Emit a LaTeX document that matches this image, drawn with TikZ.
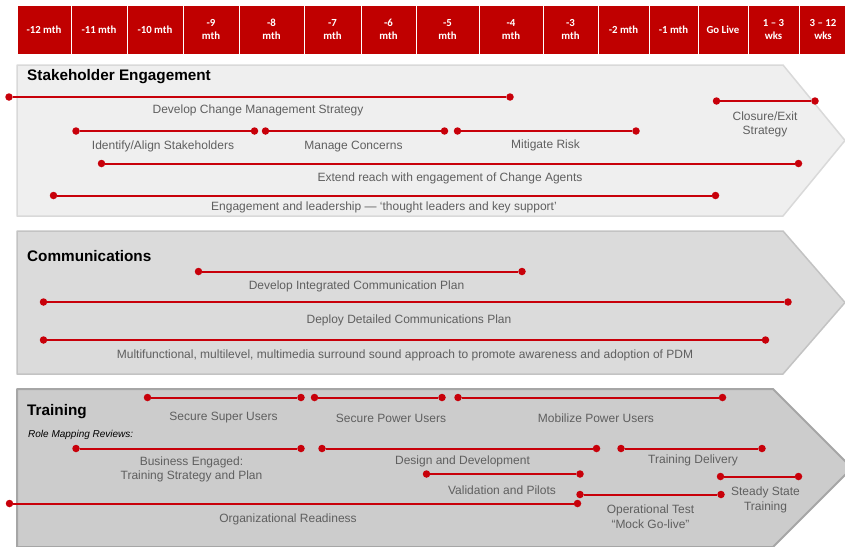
\documentclass[tikz,border=0pt]{standalone}
\usepackage{fontspec}
\setmainfont{Liberation Sans}
\newfontfamily\hdrfont{Carlito}
\usetikzlibrary{positioning}

\definecolor{hdrred}{HTML}{C00000}
\definecolor{barred}{HTML}{C8000A}
\definecolor{lblgray}{HTML}{5F5F5F}
\definecolor{sefill}{HTML}{EFEFEF}
\definecolor{seline}{HTML}{D9D9D9}
\definecolor{cofill}{HTML}{DBDBDB}
\definecolor{coline}{HTML}{C3C3C3}
\definecolor{trfill}{HTML}{CCCCCC}
\definecolor{trline}{HTML}{A6A6A6}

\tikzset{
	hdr/.style={draw=white, line width=1pt, fill=hdrred, text=white, inner sep=0pt,
		font=\hdrfont\bfseries\fontsize{10.8}{12.5}\selectfont, align=center, minimum height=49pt},
	dot/.style={circle, fill=barred, inner sep=0pt, minimum size=7.5pt},
	bar/.style={draw=barred, line width=2pt},
	lbl/.style={text=lblgray, font=\fontsize{12}{14.5}\selectfont, align=center, inner sep=0pt, yshift=-1.5pt},
	ttl/.style={font=\fontsize{15.3}{18}\selectfont\bfseries, anchor=west, inner sep=0pt},
}

\begin{document}
\begin{tikzpicture}[x=1pt, y=-1pt, line join=round]
	
	\useasboundingbox (0,0) rectangle (845,546);
	\clip (0,0) rectangle (845,546);
	
	% month header
	\node[hdr, minimum width=54pt] (m12) at (44,29.5) {-12 mth};
	\node[hdr, minimum width=56pt] (m11) at (99,29.5) {-11 mth};
	\node[hdr, minimum width=56pt] (m10) at (155,29.5) {-10 mth};
	\node[hdr, minimum width=56pt] (m9) at (211,29.5) {-9\\mth};
	\node[hdr, minimum width=65pt] (m8) at (271.5,29.5) {-8\\mth};
	\node[hdr, minimum width=57pt] (m7) at (332.5,29.5) {-7\\mth};
	\node[hdr, minimum width=55pt] (m6) at (388.5,29.5) {-6\\mth};
	\node[hdr, minimum width=63pt] (m5) at (447.5,29.5) {-5\\mth};
	\node[hdr, minimum width=64pt] (m4) at (511,29.5) {-4\\mth};
	\node[hdr, minimum width=55pt] (m3) at (570.5,29.5) {-3\\mth};
	\node[hdr, minimum width=51pt] (m2) at (623.5,29.5) {-2 mth};
	\node[hdr, minimum width=49pt] (m1) at (673.5,29.5) {-1 mth};
	\node[hdr, minimum width=50pt] (golive) at (723,29.5) {Go Live};
	\node[hdr, minimum width=51pt] (w13) at (773.5,29.5) {1 – 3\\wks};
	\node[hdr, minimum width=48pt] (w312) at (823,29.5) {3 – 12\\wks};
	
	% Stakeholder Engagement band
	\draw[fill=sefill, draw=seline, line width=1.5pt]
	(17,65) -- (783,65) -- (845,140.5) -- (783,216) -- (17,216) -- cycle;
	\node[ttl] (se) at (27,77) {Stakeholder Engagement};
	
	\node[dot] (cms-l) at (9,97) {};
	\node[dot] (cms-r) at (510,97) {};
	\draw[bar] (cms-l) -- (cms-r);
	\node[lbl] (cms) at (258,109) {Develop Change Management Strategy};
	
	\node[dot] (exit-l) at (716.5,101) {};
	\node[dot] (exit-r) at (815,101) {};
	\draw[bar] (exit-l) -- (exit-r);
	\node[lbl] (exit) at (765,123) {Closure/Exit\\Strategy};
	
	\node[dot] (ias-l) at (76,131) {};
	\node[dot] (ias-r) at (254.5,131) {};
	\draw[bar] (ias-l) -- (ias-r);
	\node[lbl] (ias) at (163,145) {Identify/Align Stakeholders};
	
	\node[dot] (mc-l) at (265.5,131) {};
	\node[dot] (mc-r) at (444.5,131) {};
	\draw[bar] (mc-l) -- (mc-r);
	\node[lbl] (mc) at (353.5,145) {Manage Concerns};
	
	\node[dot] (mr-l) at (457.5,131) {};
	\node[dot] (mr-r) at (636,131) {};
	\draw[bar] (mr-l) -- (mr-r);
	\node[lbl] (mr) at (545.5,144) {Mitigate Risk};
	
	\node[dot] (erc-l) at (101.5,163.5) {};
	\node[dot] (erc-r) at (798.5,163.5) {};
	\draw[bar] (erc-l) -- (erc-r);
	\node[lbl] (erc) at (450,177) {Extend reach with engagement of Change Agents};
	
	\node[dot] (eal-l) at (53.5,195.5) {};
	\node[dot] (eal-r) at (715.5,195.5) {};
	\draw[bar] (eal-l) -- (eal-r);
	\node[lbl] (eal) at (384,206) {Engagement and leadership --- `thought leaders and key support'};
	
	% Communications band
	\draw[fill=cofill, draw=coline, line width=1.5pt]
	(17,231) -- (783,231) -- (845,302.5) -- (783,374) -- (17,374) -- cycle;
	\node[ttl] (co) at (27,256) {Communications};
	
	\node[dot] (icp-l) at (198.5,271.5) {};
	\node[dot] (icp-r) at (522,271.5) {};
	\draw[bar] (icp-l) -- (icp-r);
	\node[lbl] (icp) at (356.5,285) {Develop Integrated Communication Plan};
	
	\node[dot] (dcp-l) at (43.5,302) {};
	\node[dot] (dcp-r) at (788,302) {};
	\draw[bar] (dcp-l) -- (dcp-r);
	\node[lbl] (dcp) at (409,319) {Deploy Detailed Communications Plan};
	
	\node[dot] (ssa-l) at (43.5,340) {};
	\node[dot] (ssa-r) at (765.5,340) {};
	\draw[bar] (ssa-l) -- (ssa-r);
	\node[lbl] (ssa) at (405,354) {Multifunctional, multilevel, multimedia surround sound approach to promote awareness and adoption of PDM};
	
	% Training band
	\draw[fill=trfill, draw=trline, line width=2pt]
	(17,389) -- (773,389) -- (852,468) -- (773,547) -- (17,547) -- cycle;
	\node[ttl] (tr) at (27,412) {Training};
	\node[anchor=west, inner sep=0pt, font=\fontsize{10}{12}\selectfont\itshape] (rmr) at (28,434.5) {Role Mapping Reviews:};
	
	\node[dot] (ssu-l) at (147.5,397.5) {};
	\node[dot] (ssu-r) at (301,397.5) {};
	\draw[bar] (ssu-l) -- (ssu-r);
	\node[lbl] (ssu) at (223.5,416.5) {Secure Super Users};
	
	\node[dot] (spu-l) at (314.5,397.5) {};
	\node[dot] (spu-r) at (442,397.5) {};
	\draw[bar] (spu-l) -- (spu-r);
	\node[lbl] (spu) at (391,416.5) {Secure Power Users};
	
	\node[dot] (mpu-l) at (458,397.5) {};
	\node[dot] (mpu-r) at (722.5,397.5) {};
	\draw[bar] (mpu-l) -- (mpu-r);
	\node[lbl] (mpu) at (596,416.5) {Mobilize Power Users};
	
	\node[dot] (bet-l) at (76,448.5) {};
	\node[dot] (bet-r) at (301,448.5) {};
	\draw[bar] (bet-l) -- (bet-r);
	\node[lbl] (bet) at (191.5,468) {Business Engaged:\\Training Strategy and Plan};
	
	\node[dot] (dad-l) at (322,448.5) {};
	\node[dot] (dad-r) at (596.5,448.5) {};
	\draw[bar] (dad-l) -- (dad-r);
	\node[lbl] (dad) at (462.5,460) {Design and Development};
	
	\node[dot] (tdl-l) at (621,448.5) {};
	\node[dot] (tdl-r) at (762,448.5) {};
	\draw[bar] (tdl-l) -- (tdl-r);
	\node[lbl] (tdl) at (693,459) {Training Delivery};
	
	\node[dot] (vap-l) at (426.5,474) {};
	\node[dot] (vap-r) at (580,474) {};
	\draw[bar] (vap-l) -- (vap-r);
	\node[lbl] (vap) at (502,489) {Validation and Pilots};
	
	\node[dot] (sst-l) at (720.5,476.5) {};
	\node[dot] (sst-r) at (798.5,476.5) {};
	\draw[bar] (sst-l) -- (sst-r);
	\node[lbl] (sst) at (765.5,498.5) {Steady State\\Training};
	
	\node[dot] (opt-l) at (580,494.5) {};
	\node[dot] (opt-r) at (721,494.5) {};
	\draw[bar] (opt-l) -- (opt-r);
	\node[lbl] (opt) at (650.5,515) {Operational Test\\``Mock Go-live''};
	
	\node[dot] (ord-l) at (9.5,503.5) {};
	\node[dot] (ord-r) at (577.5,503.5) {};
	\draw[bar] (ord-l) -- (ord-r);
	\node[lbl] (ord) at (288,518) {Organizational Readiness};
	
\end{tikzpicture}
\end{document}
